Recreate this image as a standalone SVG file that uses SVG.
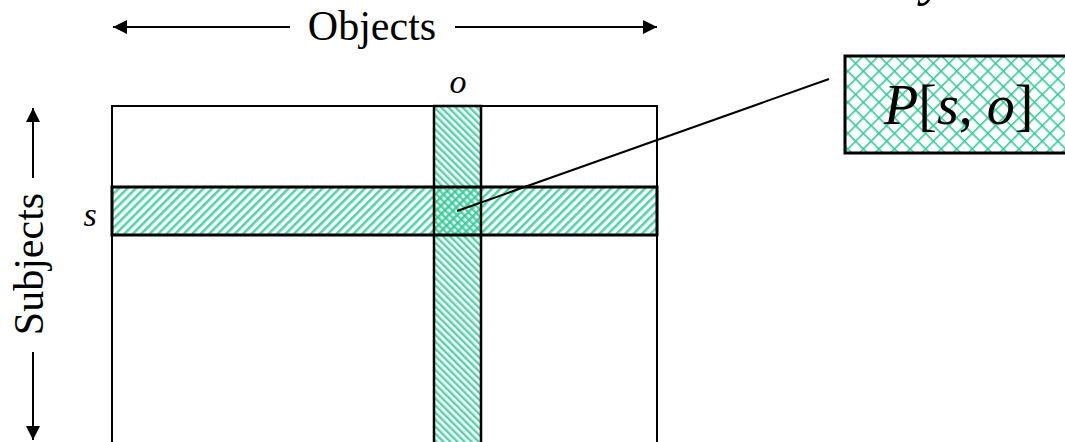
<svg xmlns="http://www.w3.org/2000/svg" width="1065" height="442" viewBox="0 0 1065 442">
  <style>
    .lbl { font-family: "Liberation Serif", "Times New Roman", serif; fill: #000; }
    .it { font-style: italic; }
    .ln { stroke: #000; fill: none; }
  </style>
  <defs>
    <pattern id="fwd" patternUnits="userSpaceOnUse" width="6" height="6" patternTransform="rotate(45)">
      <rect x="0" y="0" width="2.6" height="6" fill="#33cc99" opacity="0.85"/>
    </pattern>
    <pattern id="bwd" patternUnits="userSpaceOnUse" width="5" height="5" patternTransform="rotate(-45)">
      <rect x="0" y="0" width="2.4" height="5" fill="#33cc99" opacity="0.85"/>
    </pattern>
    <pattern id="cross" patternUnits="userSpaceOnUse" width="11" height="11" patternTransform="rotate(45)">
      <rect x="0" y="0" width="1.6" height="11" fill="#33cc99"/>
      <rect x="0" y="0" width="11" height="1.6" fill="#33cc99"/>
    </pattern>
    <marker id="ah" viewBox="0 0 10 10" refX="10" refY="5" markerWidth="17" markerHeight="14" markerUnits="userSpaceOnUse" orient="auto">
      <path d="M0,0 L10,5 L0,10 Z" fill="#000"/>
    </marker>
  </defs>

  <g id="axis-objects">
    <line class="ln" x1="290" y1="27" x2="113" y2="27" stroke-width="2" marker-end="url(#ah)"/>
    <line class="ln" x1="455" y1="27" x2="657" y2="27" stroke-width="2" marker-end="url(#ah)"/>
    <text class="lbl" x="372" y="40" font-size="42" text-anchor="middle">Objects</text>
  </g>

  <g id="axis-subjects">
    <line class="ln" x1="33" y1="178" x2="33" y2="108" stroke-width="2" marker-end="url(#ah)"/>
    <line class="ln" x1="33" y1="352" x2="33" y2="440" stroke-width="2" marker-end="url(#ah)"/>
    <text class="lbl" transform="translate(43,264) rotate(-90)" font-size="42" text-anchor="middle">Subjects</text>
  </g>

  <g id="matrix">
    <rect x="112" y="106" width="545" height="345" fill="#fff" stroke="#000" stroke-width="2"/>
  </g>

  <g id="row-s">
    <rect x="112" y="187" width="545" height="48" fill="url(#fwd)"/>
  </g>

  <g id="column-o">
    <rect x="434" y="106" width="47" height="345" fill="url(#bwd)"/>
  </g>

  <g id="outlines">
    <rect x="112" y="187" width="545" height="48" fill="none" stroke="#000" stroke-width="3"/>
    <rect x="434" y="106" width="47" height="345" fill="none" stroke="#000" stroke-width="2.5"/>
  </g>

  <g id="labels">
    <text class="lbl it" x="90" y="226" font-size="34" text-anchor="middle">s</text>
    <text class="lbl it" x="458" y="93" font-size="34" text-anchor="middle">o</text>
    <text class="lbl it" x="922" y="-6" font-size="56">y</text>
  </g>

  <g id="connectors">
    <line class="ln" x1="457" y1="211" x2="829" y2="79" stroke-width="2"/>
  </g>

  <g id="callout">
    <rect x="845" y="56" width="230" height="97" fill="#fff"/>
    <rect x="845" y="56" width="230" height="97" fill="url(#cross)" stroke="#000" stroke-width="3"/>
    <text class="lbl" x="884" y="124" font-size="56"><tspan class="it">P</tspan>[<tspan class="it">s</tspan>, <tspan class="it">o</tspan>]</text>
  </g>
</svg>
